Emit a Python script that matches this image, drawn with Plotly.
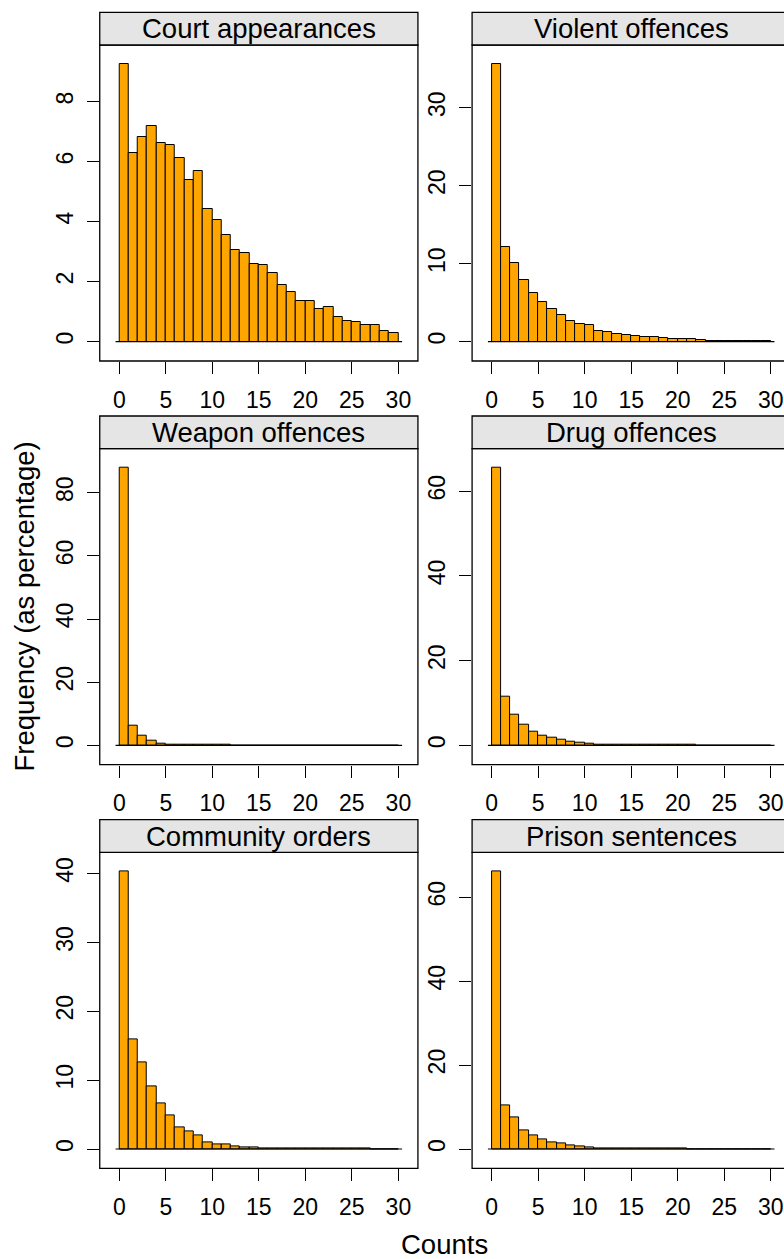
import plotly.graph_objects as go

W, H = 784, 1259

titles = ["Court appearances", "Violent offences", "Weapon offences",
          "Drug offences", "Community orders", "Prison sentences"]

counts = list(range(30))  # bin left edges: counts 0..29 in bins [k, k+1)
x_ticks = [0, 5, 10, 15, 20, 25, 30]

court = [9.24, 6.30, 6.81, 7.19, 6.62, 6.57, 6.12, 5.38, 5.70, 4.41,
         4.07, 3.57, 3.07, 2.97, 2.60, 2.56, 2.29, 1.89, 1.66, 1.34,
         1.37, 1.09, 1.14, 0.83, 0.69, 0.67, 0.56, 0.54, 0.36, 0.30]
violent = [35.56, 12.09, 10.13, 7.86, 6.28, 5.04, 4.23, 3.46, 2.69, 2.31,
           2.09, 1.32, 1.24, 1.03, 0.85, 0.74, 0.64, 0.56, 0.43, 0.30,
           0.30, 0.34, 0.15, 0.12, 0.10, 0.08, 0.06, 0.05, 0.05, 0.04]
weapon = [87.8, 6.24, 2.96, 1.59, 0.63, 0.32, 0.20, 0.15, 0.10, 0.08,
          0.06, 0.05, 0.03, 0.03, 0.02, 0.02, 0.02, 0.01, 0.01, 0.01,
          0.01, 0.01, 0.01, 0.01, 0.01, 0.01, 0.01, 0.01, 0.01, 0.01]
drug = [65.45, 11.36, 7.18, 4.81, 3.15, 2.37, 1.73, 1.26, 0.87, 0.55,
        0.39, 0.25, 0.20, 0.15, 0.12, 0.10, 0.08, 0.07, 0.06, 0.05,
        0.04, 0.03, 0.02, 0.02, 0.02, 0.02, 0.01, 0.01, 0.01, 0.01]
community = [40.24, 15.84, 12.59, 9.10, 6.59, 4.89, 3.20, 2.57, 1.99, 1.02,
             0.68, 0.68, 0.44, 0.24, 0.19, 0.12, 0.10, 0.08, 0.06, 0.05,
             0.04, 0.04, 0.03, 0.02, 0.02, 0.02, 0.02, 0.01, 0.01, 0.01]
prison = [66.05, 10.49, 7.63, 4.53, 3.34, 2.23, 1.59, 1.35, 0.87, 0.64,
          0.40, 0.22, 0.15, 0.10, 0.08, 0.06, 0.05, 0.04, 0.04, 0.03,
          0.03, 0.02, 0.02, 0.02, 0.02, 0.02, 0.02, 0.01, 0.01, 0.01]

series = [court, violent, weapon, drug, community, prison]

yticks_court = [0, 2, 4, 6, 8]
yticks_violent = [0, 10, 20, 30]
yticks_weapon = [0, 20, 40, 60, 80]
yticks_drug = [0, 20, 40, 60]
yticks_community = [0, 10, 20, 30, 40]
yticks_prison = [0, 20, 40, 60]
y_ticks = [yticks_court, yticks_violent, yticks_weapon,
           yticks_drug, yticks_community, yticks_prison]

FONT = "Liberation Sans, Arial, Helvetica, sans-serif"
ORANGE = "#FFA500"
STRIP = "#E5E5E5"

# layout geometry (pixels)
BOX_L0, COL_PITCH, BOX_W = 100.0, 373.3, 319.0
BOX_T0, ROW_PITCH, BOX_H = 45.0, 403.7, 316.0
STRIP_H = 32.7
PAD = 0.07

fig = go.Figure()
shapes = []
annotations = []

for i, vals in enumerate(series):
    r, c = divmod(i, 2)
    left = BOX_L0 + c * COL_PITCH
    right = left + BOX_W
    top = BOX_T0 + r * ROW_PITCH
    bottom = top + BOX_H
    vis_right = min(right, W)

    n = len(counts)
    x0 = -PAD * n
    full_span = n * (1 + 2 * PAD)
    x1 = x0 + full_span * (vis_right - left) / BOX_W
    m = max(vals)

    ax = "" if i == 0 else str(i + 1)
    xa, ya = "x" + ax, "y" + ax

    fig.add_trace(go.Bar(
        x=[k + 0.5 for k in counts], y=vals, width=1,
        marker=dict(color=ORANGE, line=dict(color="black", width=1)),
        xaxis=xa, yaxis=ya, showlegend=False, hoverinfo="skip"))
    fig.add_trace(go.Scatter(
        x=[counts[0] - 0.4, counts[-1] + 1.4], y=[0, 0], mode="lines",
        line=dict(color="black", width=1.2),
        xaxis=xa, yaxis=ya, showlegend=False, hoverinfo="skip"))

    common = dict(showgrid=False, zeroline=False, showline=False,
                  ticks="outside", ticklen=12, tickwidth=1.2, tickcolor="black",
                  ticklabeloverflow="allow",
                  tickfont=dict(family=FONT, size=23, color="black"))
    fig.layout["xaxis" + ax] = dict(
        domain=[left / W, vis_right / W], range=[x0, x1],
        anchor=ya, tickvals=x_ticks, ticklabelstandoff=6, **common)
    fig.layout["yaxis" + ax] = dict(
        domain=[1 - bottom / H, 1 - top / H], range=[-PAD * m, (1 + PAD) * m],
        anchor=xa, tickvals=y_ticks[i], tickangle=-90, ticklabelstandoff=5,
        **common)

    # plot box
    shapes.append(dict(type="rect", xref="paper", yref="paper",
                       x0=left / W, x1=right / W,
                       y0=1 - bottom / H, y1=1 - top / H,
                       line=dict(color="black", width=1.3), layer="above"))
    # strip
    shapes.append(dict(type="rect", xref="paper", yref="paper",
                       x0=left / W, x1=right / W,
                       y0=1 - top / H, y1=1 - (top - STRIP_H) / H,
                       fillcolor=STRIP, line=dict(color="black", width=1.3),
                       layer="above"))
    annotations.append(dict(text=titles[i], xref="paper", yref="paper",
                            x=(left + right) / 2 / W,
                            y=1 - (top - STRIP_H / 2) / H,
                            xanchor="center", yanchor="middle", showarrow=False,
                            font=dict(family=FONT, size=27.5, color="black")))

annotations.append(dict(text="Counts", xref="paper", yref="paper",
                        x=446 / W, y=1 - 1244.5 / H, xanchor="center",
                        yanchor="middle", showarrow=False,
                        font=dict(family=FONT, size=27.5, color="black")))
annotations.append(dict(text="Frequency (as percentage)", xref="paper",
                        yref="paper", x=25 / W, y=1 - 606.5 / H,
                        xanchor="center", yanchor="middle", textangle=-90,
                        showarrow=False,
                        font=dict(family=FONT, size=27.5, color="black")))

fig.update_layout(width=W, height=H, margin=dict(l=0, r=0, t=0, b=0),
                  paper_bgcolor="white", plot_bgcolor="white",
                  shapes=shapes, annotations=annotations, bargap=0)

fig.write_html("out.html", config={"displayModeBar": False},
               post_script="document.body.style.margin='0';"
                           "document.body.style.overflow='hidden';")
